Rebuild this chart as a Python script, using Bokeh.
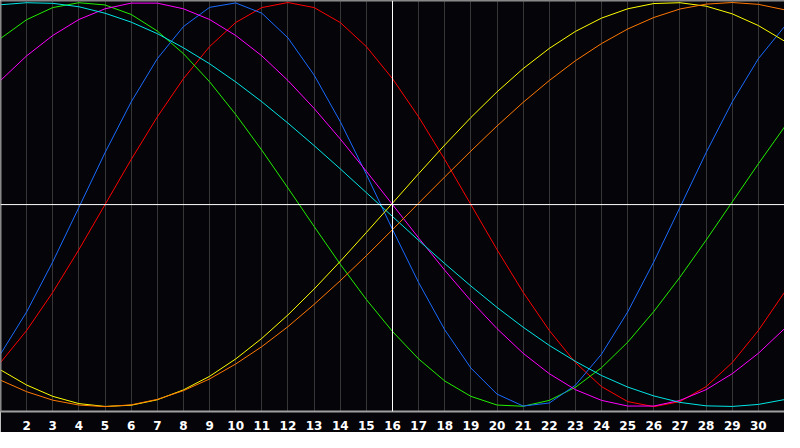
from bokeh.plotting import figure
from bokeh.models import Range1d, FixedTicker, Span
from bokeh.embed import file_html
from bokeh.resources import INLINE

days = list(range(1, 32))
tick_days = list(range(2, 31))
tick_labels = {d: str(d) for d in tick_days}

blue = [-0.740, -0.531, -0.283, -0.014, 0.257, 0.508, 0.722, 0.881, 0.976, 0.998,
        0.947, 0.825, 0.641, 0.411, 0.150, -0.123, -0.386, -0.620, -0.809, -0.938,
        -0.997, -0.982, -0.894, -0.740, -0.531, -0.283, -0.014, 0.257, 0.508, 0.722, 0.881]
red = [-0.782, -0.623, -0.434, -0.223, 0.0, 0.223, 0.434, 0.623, 0.782, 0.901,
       0.975, 1.0, 0.975, 0.901, 0.782, 0.623, 0.434, 0.223, 0.0, -0.223,
       -0.434, -0.623, -0.782, -0.901, -0.975, -1.0, -0.975, -0.901, -0.782, -0.623, -0.434]
green = [0.822, 0.915, 0.975, 0.999, 0.988, 0.941, 0.859, 0.747, 0.608, 0.446,
         0.269, 0.082, -0.108, -0.295, -0.470, -0.628, -0.764, -0.873, -0.949, -0.992,
         -0.998, -0.969, -0.904, -0.807, -0.681, -0.529, -0.359, -0.176, 0.013, 0.202, 0.384]
magenta = [0.614, 0.736, 0.837, 0.916, 0.969, 0.997, 0.997, 0.969, 0.916, 0.837,
           0.736, 0.614, 0.476, 0.325, 0.165, 0.0, -0.165, -0.325, -0.476, -0.614,
           -0.736, -0.837, -0.916, -0.969, -0.997, -0.997, -0.969, -0.916, -0.837, -0.736, -0.614]
cyan = [0.989, 0.999, 0.996, 0.979, 0.947, 0.903, 0.846, 0.776, 0.697, 0.607,
        0.509, 0.403, 0.292, 0.177, 0.059, -0.059, -0.177, -0.292, -0.403, -0.509,
        -0.607, -0.697, -0.776, -0.846, -0.903, -0.947, -0.979, -0.996, -0.999, -0.989, -0.965]
yellow = [-0.818, -0.893, -0.949, -0.985, -0.999, -0.993, -0.966, -0.917, -0.850, -0.764,
          -0.662, -0.546, -0.418, -0.281, -0.138, 0.007, 0.153, 0.295, 0.431, 0.558,
          0.673, 0.773, 0.857, 0.923, 0.969, 0.995, 0.999, 0.982, 0.944, 0.886, 0.809]
orange = [-0.869, -0.926, -0.968, -0.992, -1.0, -0.991, -0.964, -0.921, -0.863, -0.789,
          -0.703, -0.604, -0.494, -0.377, -0.253, -0.124, 0.007, 0.137, 0.265, 0.389,
          0.506, 0.614, 0.712, 0.797, 0.869, 0.926, 0.968, 0.992, 1.0, 0.991, 0.964]

series = [
    (red, "#ff0000"),
    (green, "#22ee00"),
    (blue, "#1a6bff"),
    (magenta, "#ff00ff"),
    (cyan, "#00e6e6"),
    (yellow, "#ffff00"),
    (orange, "#ff7800"),
]

p = figure(width=784, height=432, output_backend="svg", toolbar_location=None,
           x_range=Range1d(1, 31), y_range=Range1d(-1.024, 1.01),
           min_border_left=0, min_border_right=0, min_border_top=0, min_border_bottom=0)
p.background_fill_color = "#050408"
p.border_fill_color = "#050408"
p.outline_line_color = None

p.yaxis.visible = False
p.ygrid.grid_line_color = None

p.xgrid.ticker = FixedTicker(ticks=tick_days)
p.xgrid.grid_line_color = "#363636"
p.xgrid.grid_line_width = 1

p.xaxis.ticker = FixedTicker(ticks=tick_days)
p.xaxis.major_label_overrides = tick_labels
p.xaxis.major_tick_line_color = None
p.xaxis.minor_tick_line_color = None
p.xaxis.axis_line_color = "#a0a0a0"
p.xaxis.axis_line_width = 2
p.xaxis.major_label_text_color = "#ffffff"
p.xaxis.major_label_text_font = "DejaVu Sans"
p.xaxis.major_label_text_font_style = "bold"
p.xaxis.major_label_text_font_size = "12px"
p.xaxis.major_label_standoff = 3

p.add_layout(Span(location=1, dimension="height", line_color="#909090", line_width=2))
p.add_layout(Span(location=1.01, dimension="width", line_color="#909090", line_width=2))
p.add_layout(Span(location=16, dimension="height", line_color="#ffffff", line_width=1))
p.add_layout(Span(location=0, dimension="width", line_color="#ffffff", line_width=1))

for vals, col in series:
    p.line(days, vals, line_color=col, line_width=1)

open("out.html", "w").write(file_html(p, INLINE))
